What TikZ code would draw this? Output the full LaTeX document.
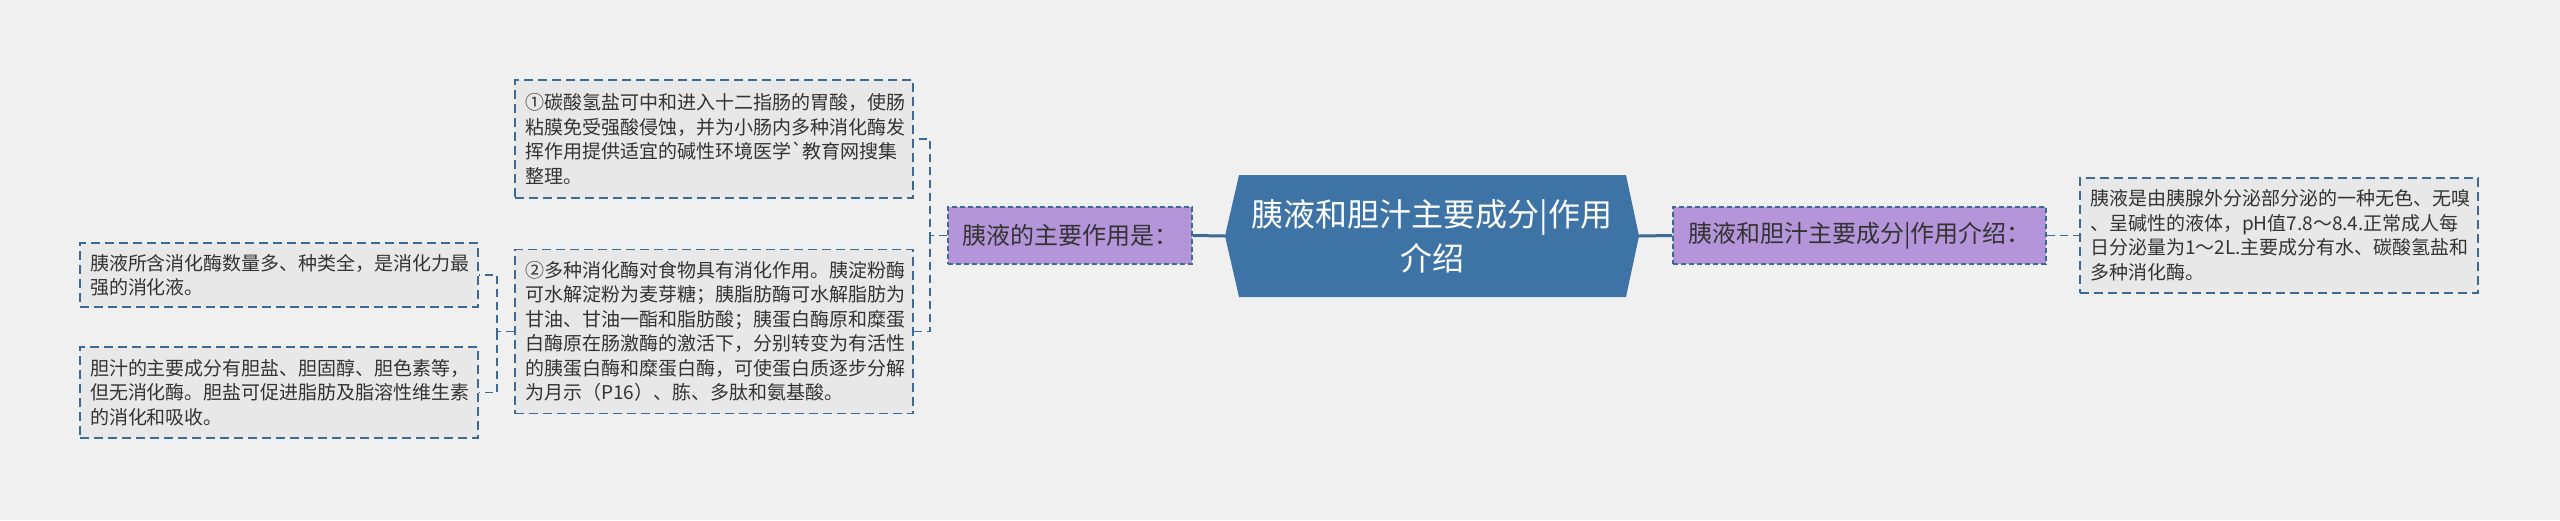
\documentclass[tikz,border=0pt]{standalone}
\usepackage{fontspec}
\setmainfont{Noto Sans CJK SC}

\definecolor{bgcol}{HTML}{F0F0F0}
\definecolor{boxfill}{HTML}{E8E8E8}
\definecolor{linecol}{HTML}{3B6A94}
\definecolor{purplefill}{HTML}{B595D9}
\definecolor{rootfill}{HTML}{3E73A5}
\definecolor{textcol}{HTML}{333333}

\begin{document}
\begin{tikzpicture}[x=0.5pt, y=-0.5pt,
  leafbox/.style={draw=linecol, line width=0.75pt, dash pattern=on 4.5pt off 2.5pt,
    fill=boxfill, text=textcol, text width=189pt, align=left,
    inner xsep=5pt, inner ysep=0pt, font=\fontsize{9.5}{12.25}\selectfont},
  subbox/.style={draw=linecol, line width=0.75pt, dash pattern=on 2.5pt off 1.5pt,
    fill=purplefill, text=textcol, minimum height=28.5pt, inner sep=0pt,
    font=\fontsize{12}{14}\selectfont},
  dashline/.style={linecol, line width=0.75pt, dash pattern=on 4pt off 2.5pt},
  mainline/.style={linecol, line width=1.5pt}]
  % Background and page size
  \fill[bgcol] (0,0) rectangle (2560,520);
  \useasboundingbox (0,0) rectangle (2560,520);

  % Root (hexagon)
  \coordinate (rootW) at (1225,236);
  \coordinate (rootE) at (1639,236);
  \fill[rootfill] (rootW) -- (1239,175) -- (1626,175) -- (rootE) -- (1626,297) -- (1239,297) -- cycle;
  \node[text=white, align=center, font=\fontsize{16}{22}\selectfont] (root) at (1432,236)
    {胰液和胆汁主要成分|作用\\介绍};

  % Second level
  \node[subbox, minimum width=122pt] (zuoyong) at (1070,235.5) {胰液的主要作用是：};
  \node[subbox, minimum width=186.5pt] (jieshao) at (1859.5,235.5) {胰液和胆汁主要成分|作用介绍：};

  % Right leaf
  \node[leafbox, minimum height=57.5pt] (yiye) at (2279,235.5)
    {胰液是由胰腺外分泌部分泌的一种无色、无嗅\\
     、呈碱性的液体，pH值7.8～8.4.正常成人每\\
     日分泌量为1～2L.主要成分有水、碳酸氢盐和\\
     多种消化酶。};

  % Left leaves
  \node[leafbox, minimum height=59pt] (tansuan) at (714,139)
    {①碳酸氢盐可中和进入十二指肠的胃酸，使肠\\
     粘膜免受强酸侵蚀，并为小肠内多种消化酶发\\
     挥作用提供适宜的碱性环境医学\textasciigrave 教育网搜集\\
     整理。};
  \node[leafbox, minimum height=82pt] (xiaohua) at (714,331.5)
    {②多种消化酶对食物具有消化作用。胰淀粉酶\\
     可水解淀粉为麦芽糖；胰脂肪酶可水解脂肪为\\
     甘油、甘油一酯和脂肪酸；胰蛋白酶原和糜蛋\\
     白酶原在肠激酶的激活下，分别转变为有活性\\
     的胰蛋白酶和糜蛋白酶，可使蛋白质逐步分解\\
     为月示（P16）、胨、多肽和氨基酸。};
  \node[leafbox, minimum height=32pt] (shuliang) at (279,275)
    {胰液所含消化酶数量多、种类全，是消化力最\\
     强的消化液。};
  \node[leafbox, minimum height=45.5pt] (danzhi) at (279,392.5)
    {胆汁的主要成分有胆盐、胆固醇、胆色素等，\\
     但无消化酶。胆盐可促进脂肪及脂溶性维生素\\
     的消化和吸收。};

  % Connectors
  \draw[mainline] (zuoyong.east) -- (rootW);
  \draw[mainline] (rootE) -- (jieshao.west);
  \draw[dashline] (jieshao.east) -- (yiye.west);

  \coordinate (fork1) at (930,235.5);
  \draw[dashline] (zuoyong.west) -- (fork1) |- (tansuan.east);
  \draw[dashline] (fork1) |- (xiaohua.east);

  \coordinate (fork2) at (497,331.5);
  \draw[dashline] (xiaohua.west) -- (fork2) |- (shuliang.east);
  \draw[dashline] (fork2) |- (danzhi.east);
\end{tikzpicture}
\end{document}
